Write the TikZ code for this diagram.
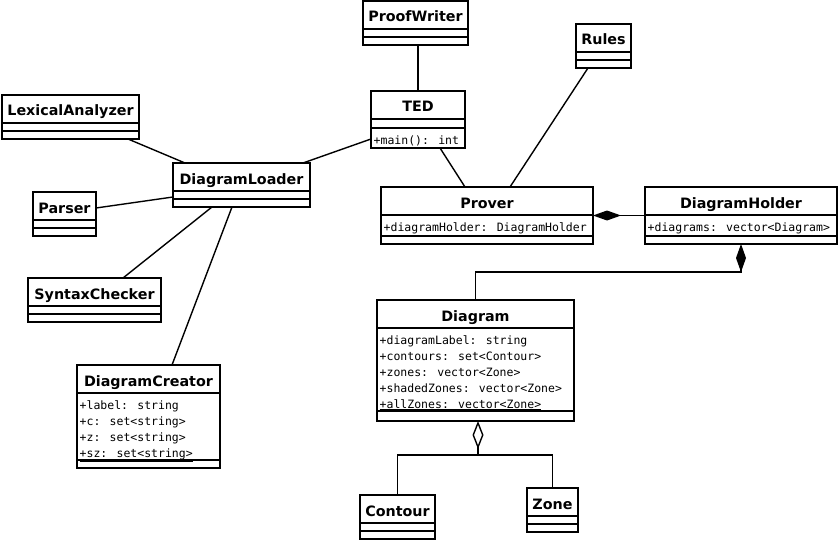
\documentclass[tikz,border=0pt]{standalone}
\usepackage{fontspec}
\setmainfont{DejaVu Sans}
\newfontfamily\membersfont{DejaVu Sans Mono}
\usetikzlibrary{calc, arrows.meta}

% name, left, top, width, title, attr height, attrs, op height, ops
\newcommand{\umlclass}[9]{%
  \node[classbox, minimum width=#4, minimum height=28+#6+#8, anchor=north west] (#1) at (#2,-#3) {};
  \node[classname, anchor=base] (#1-title) at ($(#1.north)+(0,-21)$) {#5};
  \draw[classline] ($(#1.north west)+(0,-28)$) -- ($(#1.north east)+(0,-28)$);
  \draw[classline] ($(#1.north west)+(0,-28-#6)$) -- ($(#1.north east)+(0,-28-#6)$);
  \foreach \m [count=\k] in {#7} {\node[member, anchor=base west] (#1-a\k) at ($(#1.north west)+(2.5,-28-16*\k)$) {\m};}
  \foreach \m [count=\k] in {#9} {\node[member, anchor=base west] (#1-o\k) at ($(#1.north west)+(2.5,-28-#6-16*\k)$) {\m};}
}

\begin{document}
\begin{tikzpicture}[x=1pt, y=1pt,
  classbox/.style={draw, line width=1.6pt, fill=white, inner sep=0pt, outer sep=0pt},
  classline/.style={line width=1.6pt},
  classname/.style={inner sep=0pt, font=\bfseries\fontsize{14.3}{16}\selectfont},
  member/.style={inner sep=0pt, font=\membersfont\fontsize{11.5}{16}\selectfont},
  assoc/.style={line width=1.4pt},
  comp/.style={assoc, -{Diamond[length=28pt, width=10pt, fill=black]}},
  aggr/.style={assoc, -{Diamond[length=28pt, width=11pt, open]}}]
\useasboundingbox[fill=white] (0,0) rectangle (839,-543);

\umlclass{proofwriter}{363}{1}{105}{ProofWriter}{8}{}{8}{}
\umlclass{rules}{576}{24}{55}{Rules}{8}{}{8}{}
\umlclass{ted}{371}{91}{94}{TED}{9}{}{20}{+main(): int}
\umlclass{lexical}{2}{95}{137}{LexicalAnalyzer}{8}{}{8}{}
\umlclass{loader}{173}{163}{137}{DiagramLoader}{8}{}{8}{}
\umlclass{parser}{33}{192}{63}{Parser}{8}{}{8}{}
\umlclass{syntax}{28}{278}{133}{SyntaxChecker}{8}{}{8}{}
\umlclass{creator}{77}{365}{143}{DiagramCreator}{67}{+label: string, +c: set<string>, +z: set<string>, \underline{+sz: set<string>}}{8}{}
\umlclass{prover}{381}{187}{212}{Prover}{21}{\underline{+diagramHolder: DiagramHolder}}{8}{}
\umlclass{holder}{645}{187}{192}{DiagramHolder}{21}{\underline{+diagrams: vector<Diagram>}}{8}{}
\umlclass{diagram}{377}{300}{197}{Diagram}{83}{+diagramLabel: string, +contours: set<Contour>, +zones: vector<Zone>, +shadedZones: vector<Zone>, \underline{+allZones: vector<Zone>}}{10}{}
\umlclass{contour}{360}{495}{75}{Contour}{8}{}{8}{}
\umlclass{zone}{527}{488}{51}{Zone}{8}{}{8}{}

% associations
\draw[assoc] (ted.north) -- (ted.north |- proofwriter.south);
\draw[assoc] ($(rules.south west)+(12,0)$) -- ($(prover.north west)+(129,0)$);
\draw[assoc] ($(ted.south west)+(69,0)$) -- ($(prover.north west)+(84,0)$);
\draw[assoc] ($(ted.south west)+(0,9)$) -- ($(loader.north east)+(-7,0)$);
\draw[assoc] ($(lexical.south west)+(126,0)$) -- ($(loader.north west)+(12,0)$);
\draw[assoc] ($(parser.east)+(0,6)$) -- ($(loader.west)+(0,-12)$);
\draw[assoc] ($(syntax.north west)+(95,0)$) -- ($(loader.south west)+(39,0)$);
\draw[assoc] ($(creator.north west)+(95,0)$) -- ($(loader.south west)+(59,0)$);

% composition and aggregation
\draw[comp] (holder.west) -- (prover.east);
\draw[comp] (diagram.north) |- ($(holder.south west)+(96,-28)$) -- ($(holder.south west)+(96,0)$);
\draw[aggr] (contour.north) |- ($(diagram.south west)+(101,-34)$) -- ($(diagram.south west)+(101,0)$);
\draw[assoc] (zone.north) |- ($(diagram.south west)+(101,-34)$);
\end{tikzpicture}
\end{document}
